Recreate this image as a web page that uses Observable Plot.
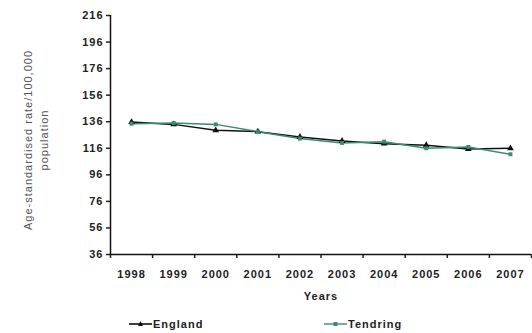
<!DOCTYPE html>
<html><head><meta charset="utf-8">
<script src="https://cdn.jsdelivr.net/npm/d3@7"></script>
<script src="https://cdn.jsdelivr.net/npm/@observablehq/plot@0.6"></script>
<style>
body{margin:0;background:#fff;font-family:"Liberation Sans",Arial,sans-serif;}
#wrap{position:relative;width:532px;height:333px;}
.legend{position:absolute;top:318px;left:0;width:532px;height:15px;font-size:11px;font-weight:bold;letter-spacing:1px;color:#222;}
.legend span{position:absolute;top:0;display:flex;align-items:center;}
.legend svg{margin-right:1px;}
</style>
</head><body>
<div id="wrap"><div id="chart"></div>
<div class="legend">
<span style="left:129px"><svg width="23" height="10"><line x1="0" y1="5" x2="23" y2="5" stroke="#111" stroke-width="1.6"/><path d="M11.5 2 L14 7 L9 7Z" fill="#111"/></svg>England</span>
<span style="left:324px"><svg width="23" height="10"><line x1="0" y1="5" x2="23" y2="5" stroke="#3b8c6e" stroke-width="1.4"/><rect x="9.5" y="3" width="4" height="4" fill="#3b8c6e"/></svg>Tendring</span>
</div></div>
<script>
const years = [1998,1999,2000,2001,2002,2003,2004,2005,2006,2007];
const england = [135.7,134,129.5,128.5,124.5,121.5,119.5,118.3,115.5,116];
const tendring = [134.5,135,134,128.5,123.3,120,121,116,117,111.5];
const yTicks = [36,56,76,96,116,136,156,176,196,216];
const yTickLabels = ["36","56","76","96","116","136","156","176","196","216"];
const seriesNames = ["England","Tendring"];
const colors = ["#111111","#3b8c6e"];

const rows = [];
years.forEach((yr,i)=>{
  rows.push({year:yr, value:england[i], series:seriesNames[0]});
  rows.push({year:yr, value:tendring[i], series:seriesNames[1]});
});
const boundaries = years.map(y=>y-0.5).concat([years[years.length-1]+0.5]);

const chart = Plot.plot({
  width:532, height:314,
  marginLeft:110, marginRight:1, marginTop:15, marginBottom:60,
  style:{fontFamily:"Liberation Sans, Arial, sans-serif", fontSize:"11px", fontWeight:"bold", color:"#222", letterSpacing:"1px"},
  x:{domain:[years[0]-0.5, years[years.length-1]+0.5]},
  y:{domain:[yTicks[0], yTicks[yTicks.length-1]]},
  color:{domain:seriesNames, range:colors},
  marks:[
    Plot.axisY({ticks:yTicks, tickFormat:(d)=>yTickLabels[yTicks.indexOf(d)], tickSize:4, tickPadding:3, label:null, strokeWidth:1.5}),
    Plot.axisX({ticks:years, tickFormat:d=>String(d), tickSize:0, tickPadding:16, label:null}),
    Plot.axisX({ticks:boundaries, tickFormat:()=>"", tickSize:4, label:null, strokeWidth:1.5}),
    Plot.ruleX([years[0]-0.5], {stroke:"#111", strokeWidth:1.5}),
    Plot.ruleY([yTicks[0]], {stroke:"#111", strokeWidth:1.5}),
    Plot.text(["Years"], {frameAnchor:"bottom", dy:45, fontSize:11, fontWeight:"bold", fill:"#222"}),
    Plot.text(["Age-standardised rate/100,000\npopulation"], {frameAnchor:"left", textAnchor:"middle", rotate:-90, dx:-76, dy:5, fontSize:11, fontWeight:"normal", lineHeight:1.5, fill:"#555"}),
    Plot.line(rows, {x:"year", y:"value", z:"series", stroke:"series", strokeWidth:1.5}),
    Plot.dot(rows.filter(d=>d.series==="England"), {x:"year", y:"value", symbol:"triangle", r:2.5, fill:colors[0]}),
    Plot.dot(rows.filter(d=>d.series==="Tendring"), {x:"year", y:"value", symbol:"square", r:2.2, fill:colors[1]})
  ]
});
document.getElementById("chart").appendChild(chart);
</script>
</body></html>
